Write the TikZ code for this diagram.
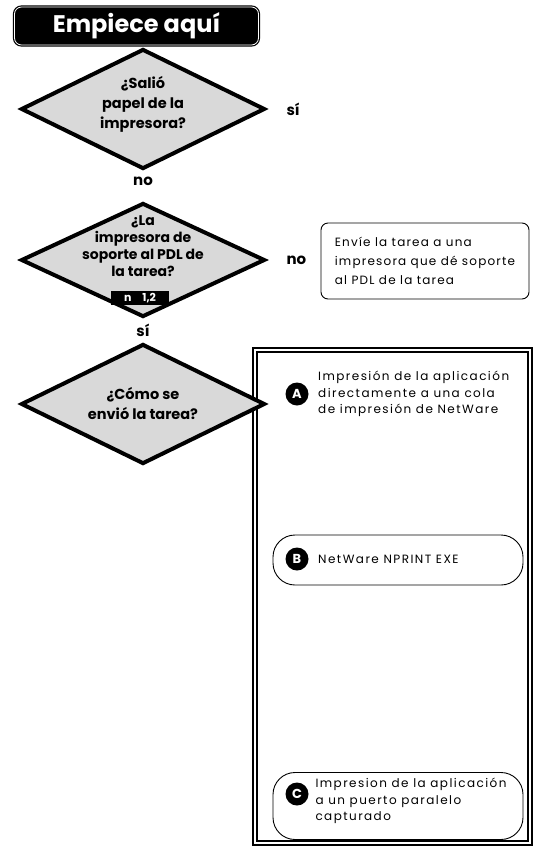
\documentclass[tikz,border=0pt]{standalone}
\usepackage{fontspec}
\setmainfont{Poppins}
\usetikzlibrary{positioning,shapes.geometric}

\begin{document}
\begin{tikzpicture}[x=1pt, y=-1pt,
  decision/.style={draw, diamond, line width=4pt, fill=gray!30, inner sep=0pt, minimum width=244pt, minimum height=118pt},
  question/.style={align=center, font=\bfseries\fontsize{14.5}{20}\selectfont},
  answer/.style={font=\bfseries\fontsize{15}{15}\selectfont},
  note/.style={draw, rounded corners=7pt, line width=0.9pt, align=left, font=\fontsize{12}{19}\selectfont\addfontfeatures{LetterSpace=10}},
  badge/.style={circle, fill=black, text=white, inner sep=0pt, minimum size=23pt, font=\bfseries\fontsize{13}{13}\selectfont},
  choice/.style={draw, rounded corners=22pt, line width=0.9pt, minimum width=250pt},
  choicetext/.style={anchor=west, align=left, font=\fontsize{12}{16.5}\selectfont\addfontfeatures{LetterSpace=12}}]
\useasboundingbox (0,0) rectangle (535,857);

\node[fill=black, draw=black, double=white, double distance=0.8pt, line width=1.2pt, rounded corners=7pt, minimum width=244pt, minimum height=38pt, text=white, font=\bfseries\fontsize{24}{24}\selectfont] (start) at (136.5,26) {Empiece aquí};

\node[draw, double=white, double distance=2.5pt, line width=1.6pt, minimum width=275pt, minimum height=493pt] (panel) at (392.5,596.5) {};

\node[decision, minimum height=120pt] (d1) at (143,109) {};
\node[question] (q1) at (143,104) {¿Salió\\papel de la\\impresora?};
\node[answer, right=16pt of d1] (yes1) {sí};
\node[answer, below=2pt of d1] (no1) {no};

\node[decision, minimum height=114pt] (d2) at (143,260) {};
\node[question, font=\bfseries\fontsize{14}{17}\selectfont] (q2) at (143,246) {¿La\\impresora de\\soporte al PDL de\\la tarea?};
\node[fill=black, text=white, font=\bfseries\fontsize{11}{11}\selectfont, minimum width=58pt, inner sep=2pt] (ref2) at (140,298) {n\quad 1,2};
\node[answer, right=16pt of d2] (no2) {no};
\node[answer, below=2pt of d2] (yes2) {sí};
\node[note, minimum width=208pt, minimum height=76pt, inner sep=6pt] (send) at (425,261) {Envíe la tarea a una\\impresora que dé soporte\\al PDL de la tarea};

\node[decision, minimum height=120pt] (d3) at (143,404) {};
\node[question] (q3) at (d3) {¿Cómo se\\envió la tarea?};

\node[badge] (ba) at (297,394) {A};
\node[choicetext, right=6pt of ba] (ta) {Impresión de la aplicación\\directamente a una cola\\de impresión de NetWare};

\node[choice, minimum height=50pt] (pb) at (398,560) {};
\node[badge] (bb) at (297,559) {B};
\node[choicetext, right=6pt of bb] (tb) {NetWare NPRINT EXE};

\node[choice, minimum height=67pt] (pc) at (398,806) {};
\node[badge] (bc) at (297,794) {C};
\node[choicetext] (tc) at (312,801) {Impresion de la aplicación\\a un puerto paralelo\\capturado};
\end{tikzpicture}
\end{document}
